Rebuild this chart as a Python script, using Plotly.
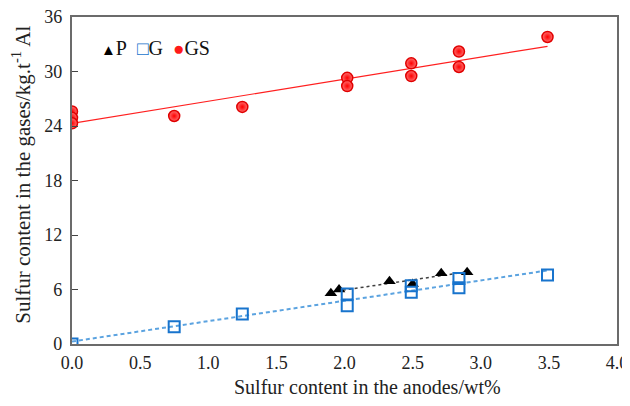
import numpy as np
import plotly.graph_objects as go

# Data
p_x = [1.90, 1.96, 2.33, 2.50, 2.71, 2.90]
p_y = [5.6, 6.0, 6.9, 6.6, 7.8, 7.9]

g_x = [0.0, 0.75, 1.25, 2.02, 2.02, 2.49, 2.49, 2.84, 2.84, 3.49]
g_y = [0.0, 1.9, 3.3, 5.5, 4.2, 6.4, 5.7, 7.2, 6.2, 7.6]

gs_x = [0.0, 0.0, 0.0, 0.75, 1.25, 2.02, 2.02, 2.49, 2.49, 2.84, 2.84, 3.49]
gs_y = [25.6, 24.9, 24.3, 25.1, 26.1, 29.3, 28.4, 30.9, 29.5, 32.2, 30.5, 33.8]

x_ticks = [0.0, 0.5, 1.0, 1.5, 2.0, 2.5, 3.0, 3.5, 4.0]
y_ticks = [0, 6, 12, 18, 24, 30, 36]

x_title = "Sulfur content in the anodes/wt%"
y_title = "Sulfur content in the gases/kg.t<sup>-1</sup> Al"

series_names = ["P", "G", "GS"]
series_colors = ["#000000", "#1874cd", "#ff1a1a"]
series_symbols = ["▲", "□", "●"]
symbol_sizes = [15, 19, 19]


def fit_line(xs, ys):
    k, b = np.polyfit(xs, ys, 1)
    xe = [min(xs), max(xs)]
    return xe, [k * v + b for v in xe]


fig = go.Figure()

# trend lines
lx, ly = fit_line(gs_x, gs_y)
fig.add_trace(go.Scatter(x=lx, y=ly, mode="lines", line=dict(color="#ff2020", width=1.2),
                         showlegend=False, hoverinfo="skip"))
lx, ly = fit_line(g_x, g_y)
fig.add_trace(go.Scatter(x=lx, y=ly, mode="lines", line=dict(color="#5ba3e0", width=2, dash="4px,3px"),
                         showlegend=False, hoverinfo="skip"))
lx, ly = fit_line(p_x, p_y)
fig.add_trace(go.Scatter(x=lx, y=ly, mode="lines", line=dict(color="#404040", width=1.5, dash="dot"),
                         showlegend=False, hoverinfo="skip"))

# markers
fig.add_trace(go.Scatter(x=p_x, y=p_y, mode="markers", name="P", showlegend=False,
                         marker=dict(symbol="triangle-up", size=11, color="black")))
fig.add_trace(go.Scatter(x=g_x, y=g_y, mode="markers", name="G", showlegend=False,
                         marker=dict(symbol="square-open", size=11, color="#1874cd",
                                     line=dict(width=2, color="#1874cd"))))
fig.add_trace(go.Scatter(x=gs_x, y=gs_y, mode="markers", name="GS", showlegend=False,
                         marker=dict(symbol="circle", size=11, color="#ff7070",
                                     gradient=dict(type="radial", color="#ff0000"),
                                     line=dict(width=1.5, color="#e00000"))))

# compact legend as text
legend_text = "\u00a0 ".join(
    f"<span style='color:{c};font-size:{fs}px'>{s}</span>{n}"
    for n, c, s, fs in zip(series_names, series_colors, series_symbols, symbol_sizes)
)
fig.add_annotation(text=legend_text, xref="paper", yref="paper", x=0.05, y=0.905,
                   xanchor="left", yanchor="middle", showarrow=False,
                   font=dict(family="Liberation Serif", size=20, color="#111"))

# axis titles
fig.add_annotation(text=x_title, xref="paper", yref="paper", x=0.543, y=-0.13,
                   xanchor="center", yanchor="middle", showarrow=False,
                   font=dict(family="Liberation Serif", size=20, color="#222"))
fig.add_annotation(text=y_title, xref="paper", yref="paper", x=-0.092, y=0.517,
                   xanchor="center", yanchor="middle", showarrow=False, textangle=-90,
                   font=dict(family="Liberation Serif", size=21, color="#222"))

axis_font = dict(family="Liberation Serif", size=18, color="#222")
fig.update_layout(
    width=622, height=398,
    margin=dict(l=64, r=13, t=9, b=62),
    paper_bgcolor="white", plot_bgcolor="white",
    font=dict(family="Liberation Serif", color="#222"),
    showlegend=False,
    xaxis=dict(range=[0, 4], tickvals=x_ticks, ticktext=[f"{v:.1f}" for v in x_ticks],
               showgrid=False, zeroline=False, showline=True, linecolor="#6b6b6b",
               linewidth=1.5, mirror=True, ticks="outside", ticklen=2,
               tickcolor="rgba(0,0,0,0)", tickfont=axis_font, automargin=False,
               ticklabeloverflow="allow"),
    yaxis=dict(range=[0, 36], tickvals=y_ticks, ticktext=[f"{v}\u00a0" for v in y_ticks],
               showgrid=False, zeroline=False,
               showline=True, linecolor="#6b6b6b", linewidth=1.5, mirror=True,
               ticks="inside", ticklen=6, tickcolor="#444", tickfont=axis_font,
               automargin=False, ticklabeloverflow="allow"),
)

fig.write_html("out.html")
